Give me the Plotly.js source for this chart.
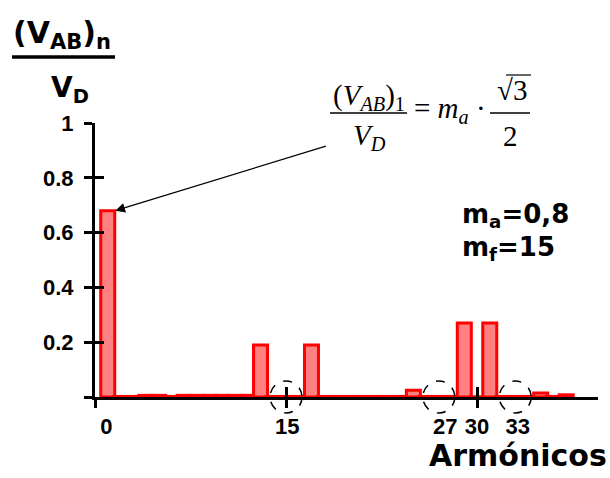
<!DOCTYPE html>
<html><head><meta charset="utf-8">
<script src="https://cdn.plot.ly/plotly-3.0.1.min.js"></script>
<style>html,body{margin:0;padding:0;background:#fff}#c{width:610px;height:478px}</style>
</head><body><div id="c"></div>
<script>
// harmonic order and normalized amplitude (V_AB)_n / V_D
var harmonics = [1,2,3,4,5,6,7,8,9,10,11,12,13,14,15,16,17,18,19,20,21,22,23,24,25,26,27,28,29,30,31,32,33,34,35,36,37];
var amplitudes = [0.68,0.002,0.002,0.006,0.006,0.002,0.006,0.006,0.006,0.006,0.006,0.006,0.19,0.002,0.002,0.002,0.19,0.002,0.002,0.002,0.002,0.002,0.002,0.002,0.025,0.002,0.002,0.002,0.27,0.001,0.27,0.002,0.002,0.002,0.015,0.002,0.008];
var xTickVals = [0.9,15.1,27.5,30,33.2];
var xTickText = ['0','15','27','30','33'];
var xMarkVals = [0,15,30];
var yTickVals = [0,0.2,0.4,0.6,0.8,1];
var yTickText = ['','0.2','0.4','0.6','0.8','1'];
var circled = [15,27,33];
var XMAX = 39.5;

var L=95,R=598,T=123,B=397,W=610,H=478;
function px(x){return (x-L)/(R-L);}
function py(y){return (B-y)/(B-T);}
var sans='"Liberation Sans", Arial, sans-serif';
var wide='"DejaVu Sans", Verdana, sans-serif';
var serif='"Liberation Serif", "Times New Roman", serif';

var trace={type:'bar',x:harmonics,y:amplitudes,width:1.1,
  marker:{color:'#ff8080',line:{color:'#ff0000',width:3}},hoverinfo:'skip'};
// empty helper traces so the overlaid tick-only axes get drawn
var t2={type:'scatter',mode:'lines',x:[],y:[],xaxis:'x2',yaxis:'y',hoverinfo:'skip'};
var t3={type:'scatter',mode:'lines',x:[],y:[],xaxis:'x3',yaxis:'y',hoverinfo:'skip'};
var t4={type:'scatter',mode:'lines',x:[],y:[],xaxis:'x',yaxis:'y2',hoverinfo:'skip'};

var shapes=[
  {type:'line',xref:'paper',yref:'paper',x0:px(12),x1:px(115),y0:py(57),y1:py(57),line:{color:'black',width:3.5}},
  {type:'line',xref:'paper',yref:'paper',x0:px(330),x1:px(407),y0:py(113),y1:py(113),line:{color:'black',width:1.5}},
  {type:'line',xref:'paper',yref:'paper',x0:px(490),x1:px(530),y0:py(113),y1:py(113),line:{color:'black',width:1.5}},
  {type:'line',xref:'paper',yref:'paper',x0:px(506),x1:px(531),y0:py(75),y1:py(75),line:{color:'black',width:1.2}}
];
circled.forEach(function(h){
  shapes.push({type:'circle',xref:'paper',yref:'paper',xsizemode:'pixel',ysizemode:'pixel',xanchor:h/XMAX,yanchor:0,
    x0:-16,x1:16,y0:-16,y1:16,line:{color:'black',width:1.5,dash:'dash'}});
});

function A(x,y,text,font,xa){return {xref:'paper',yref:'paper',x:px(x),y:py(y),xanchor:xa||'center',yanchor:'middle',text:text,showarrow:false,font:font};}
var anns=[
  A(62,35,'<b>(V<sub>AB</sub>)<sub>n</sub></b>',{family:wide,size:30,color:'black'}),
  A(70,89,'<b>V<sub>D</sub></b>',{family:wide,size:28,color:'black'}),
  A(369,97,'(<i>V<sub>AB</sub></i>)<sub>1</sub>',{family:serif,size:29,color:'black'}),
  A(369,137,'<i>V<sub>D</sub></i>',{family:serif,size:29,color:'black'}),
  A(450,110,'= <i>m<sub>a</sub></i> ·',{family:serif,size:29,color:'black'}),
  A(512,90,'√3',{family:serif,size:29,color:'black'}),
  A(510,136,'2',{family:serif,size:29,color:'black'}),
  A(460,215,'<b>m<sub>a</sub>=0,8</b>',{family:wide,size:26,color:'black'},'left'),
  A(460,248,'<b>m<sub>f</sub>=15</b>',{family:wide,size:26,color:'black'},'left'),
  A(609,455,'<b>Armónicos</b>',{family:wide,size:30,color:'black'},'right'),
  {xref:'x',yref:'y',x:1.6,y:amplitudes[0],ax:212,ay:-65,text:'',showarrow:true,arrowhead:2,arrowsize:1.6,arrowwidth:1.2,arrowcolor:'black'}
];

var tickAx={range:[0,XMAX],showgrid:false,zeroline:false,showline:false,tickmode:'array',tickvals:xMarkVals,
  ticklen:10,tickwidth:3,tickcolor:'black',showticklabels:false,fixedrange:true};
var layout={width:W,height:H,margin:{l:L,r:W-R,t:T,b:H-B},paper_bgcolor:'white',plot_bgcolor:'white',
  showlegend:false,bargap:0,
  xaxis:{range:[0,XMAX],showgrid:false,zeroline:false,showline:true,linecolor:'black',linewidth:3,
    tickmode:'array',tickvals:xTickVals,ticktext:xTickText,ticks:'',ticklabelstandoff:8,
    tickfont:{family:sans,size:22,color:'black',weight:'bold'},fixedrange:true},
  xaxis2:Object.assign({overlaying:'x',anchor:'y',side:'bottom',ticks:'inside'},tickAx),
  xaxis3:Object.assign({overlaying:'x',anchor:'y',side:'bottom',ticks:'outside'},tickAx),
  yaxis:{range:[0,1],showgrid:false,zeroline:false,showline:true,linecolor:'black',linewidth:3,
    tickmode:'array',tickvals:yTickVals,ticktext:yTickText,ticks:'outside',ticklen:8,tickwidth:3,tickcolor:'black',
    ticklabelstandoff:6,tickfont:{family:sans,size:22,color:'black',weight:'bold'},fixedrange:true},
  yaxis2:{overlaying:'y',anchor:'x',side:'left',range:[0,1],showgrid:false,zeroline:false,showline:false,
    tickmode:'array',tickvals:yTickVals,ticks:'inside',ticklen:9,tickwidth:3,tickcolor:'black',showticklabels:false,fixedrange:true},
  shapes:shapes,annotations:anns
};
Plotly.newPlot('c',[trace,t2,t3,t4],layout,{displayModeBar:false,staticPlot:true});
</script></body></html>
